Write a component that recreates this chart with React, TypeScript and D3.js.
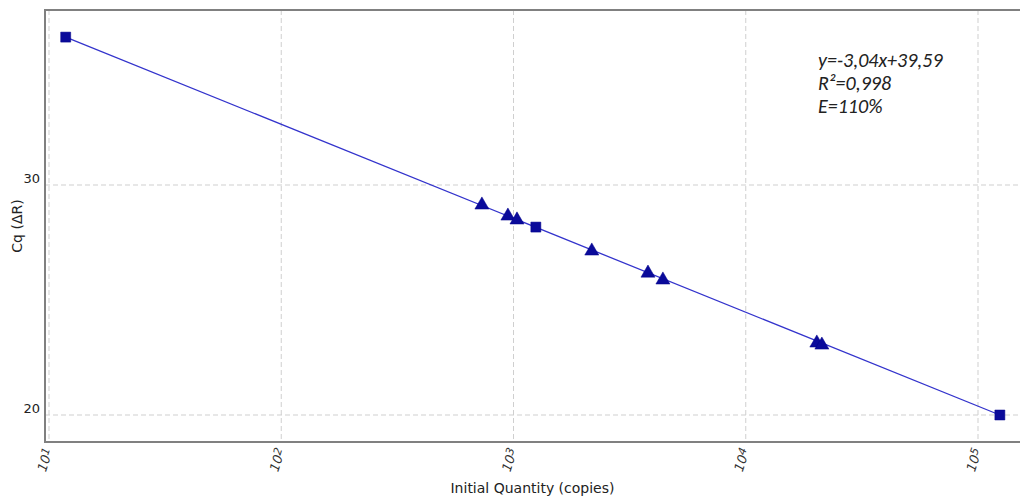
import React from "react";
import * as d3 from "d3";

const quantities = [11.8, 731, 946, 1035, 1248, 2173, 3793, 4398, 20230, 21270, 124200];
const cqValues = [36.43, 29.13, 28.65, 28.48, 28.17, 27.13, 26.17, 25.87, 23.13, 23.04, 20.0];
const markerTypes = ["square", "triangle", "triangle", "triangle", "square", "triangle", "triangle", "triangle", "triangle", "triangle", "square"];

const fitX = [11.8, 124200];
const fitY = [36.43, 20.0];

const xTicks = [10, 100, 1000, 10000, 100000];
const xTickExponents = ["1", "2", "3", "4", "5"];
const yTicks = [20, 30];
const annotation = ["y=-3,04x+39,59", "R²=0,998", "E=110%"];

export default function App() {
  const W = 1020;
  const H = 500;
  const left = 45;
  const top = 10;
  const bottom = 442;
  const right = 1024;

  const x = d3.scaleLog().domain([10, 100000]).range([49, 978]);
  const y = d3.scaleLinear().domain([20, 30]).range([415, 185]);

  const line = d3
    .line<number>()
    .x((_, i) => x(fitX[i]))
    .y((d) => y(d));

  const sq = d3.symbol().type(d3.symbolSquare).size(100)();
  const tri = d3.symbol().type(d3.symbolTriangle).size(85)();

  const font = "Tahoma, 'DejaVu Sans', Verdana, sans-serif";

  return (
    <svg
      width={W}
      height={H}
      style={{ position: "absolute", left: 0, top: 0, background: "#fff" }}
    >
      <rect x={0} y={0} width={W} height={H} fill="#fff" />
      {/* grid */}
      {xTicks.map((t) => (
        <line
          key={"gx" + t}
          x1={x(t)}
          x2={x(t)}
          y1={top}
          y2={bottom}
          stroke="#cfcfcf"
          strokeWidth={1}
          strokeDasharray="5,3"
        />
      ))}
      {yTicks.map((t) => (
        <line
          key={"gy" + t}
          x1={left}
          x2={right}
          y1={y(t)}
          y2={y(t)}
          stroke="#cfcfcf"
          strokeWidth={1}
          strokeDasharray="5,3"
        />
      ))}
      {/* frame */}
      <path
        d={`M${right},${top} L${left},${top} L${left},${bottom} L${right},${bottom}`}
        fill="none"
        stroke="#808080"
        strokeWidth={2}
      />
      {/* fit line */}
      <path d={line(fitY) || ""} fill="none" stroke="#3333cc" strokeWidth={1.3} />
      {/* points */}
      {quantities.map((q, i) => (
        <path
          key={"p" + i}
          d={markerTypes[i] === "square" ? sq! : tri!}
          transform={`translate(${x(q)},${y(cqValues[i])})`}
          fill="#0a0a9a"
          stroke="#00008b"
          strokeWidth={0.5}
        />
      ))}
      {/* y tick labels */}
      {yTicks.map((t) => (
        <text
          key={"yl" + t}
          x={40}
          y={y(t) - 2}
          textAnchor="end"
          fontFamily={font}
          fontSize={13}
          fill="#222"
        >
          {t}
        </text>
      ))}
      {/* x tick labels */}
      {xTicks.map((t, i) => (
        <text
          key={"xl" + t}
          transform={`translate(${x(t) + 4},${450}) rotate(-72)`}
          textAnchor="end"
          fontFamily={font}
          fontSize={13}
          fontStyle="italic"
          fill="#333"
        >
          10
          <tspan fontSize={11} dy={-3}>
            {xTickExponents[i]}
          </tspan>
        </text>
      ))}
      {/* axis titles */}
      <text
        x={(left + 1020) / 2}
        y={493}
        textAnchor="middle"
        fontFamily={font}
        fontSize={14}
        fill="#222"
      >
        Initial Quantity (copies)
      </text>
      <text
        transform={`translate(22,${(top + bottom) / 2}) rotate(-90)`}
        textAnchor="middle"
        fontFamily={font}
        fontSize={14}
        fill="#222"
      >
        Cq (ΔR)
      </text>
      {/* annotation */}
      {annotation.map((s, i) => (
        <text
          key={"a" + i}
          x={818}
          y={67 + i * 23}
          fontFamily="Carlito, 'Liberation Sans', 'Open Sans', sans-serif"
          fontSize={20}
          fontStyle="italic"
          fill="#222"
        >
          {s}
        </text>
      ))}
    </svg>
  );
}
